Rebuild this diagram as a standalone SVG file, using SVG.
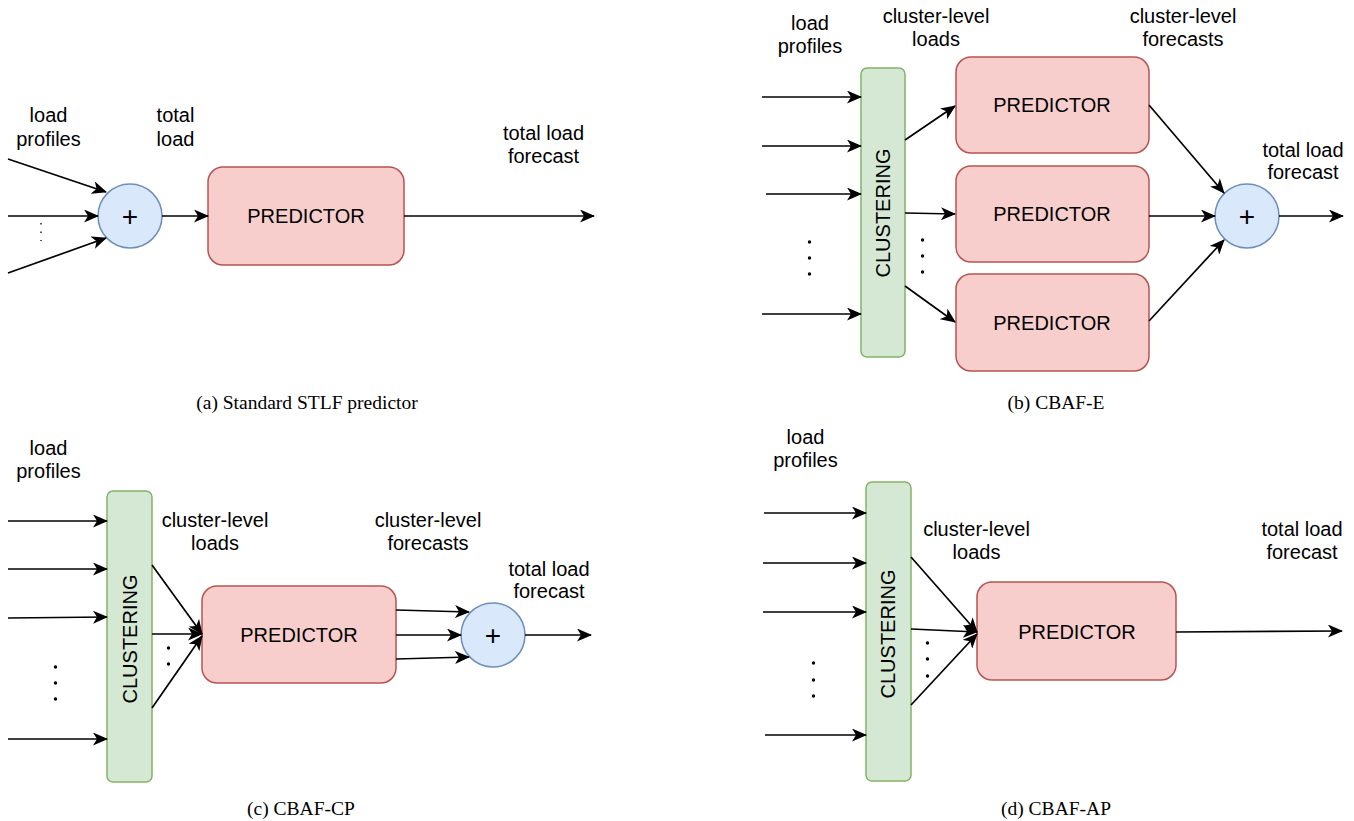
<svg xmlns="http://www.w3.org/2000/svg" width="1354" height="821" viewBox="0 0 1354 821">
  <style>
    .lbl { font-family: "Liberation Sans", Arial, Helvetica, sans-serif; font-size: 20px; fill: #000; text-anchor: middle; }
    .plus { font-family: "Liberation Sans", Arial, Helvetica, sans-serif; font-size: 28px; fill: #000; text-anchor: middle; }
    .cap { font-family: "Liberation Serif", "Times New Roman", serif; font-size: 19.5px; fill: #000; text-anchor: middle; }
    .pred { fill: #f8cecc; stroke: #b85450; stroke-width: 1.5; }
    .clus { fill: #d5e8d4; stroke: #82b366; stroke-width: 1.5; }
    .sum { fill: #dae8fc; stroke: #6c8ebf; stroke-width: 1.5; }
    .edge { fill: none; stroke: #000; stroke-width: 1.7; marker-end: url(#arrow); }
    .dot { fill: #000; }
  </style>
  <defs>
    <marker id="arrow" viewBox="0 0 15 13" refX="14" refY="6.5" markerWidth="15" markerHeight="13" markerUnits="userSpaceOnUse" orient="auto">
      <path d="M0,0 L15,6.5 L0,13 L4,6.5 Z" fill="#000"/>
    </marker>
  </defs>

  <rect width="1354" height="821" fill="#fff"/>

  <!-- (a) Standard STLF predictor -->
  <g id="a-labels">
    <text class="lbl" x="48.5" y="122">load</text>
    <text class="lbl" x="48.5" y="146">profiles</text>
    <text class="lbl" x="175.5" y="122">total</text>
    <text class="lbl" x="175.5" y="146">load</text>
    <text class="lbl" x="543.5" y="140">total load</text>
    <text class="lbl" x="543.5" y="163">forecast</text>
  </g>
  <g id="a-sum">
    <circle class="sum" cx="130" cy="216" r="32"/>
    <text class="plus" x="130" y="225.5">+</text>
  </g>
  <g id="a-predictor">
    <rect class="pred" x="208" y="167" width="196" height="98" rx="15"/>
    <text class="lbl" x="306" y="223">PREDICTOR</text>
  </g>
  <g id="a-connectors">
    <line class="edge" x1="8" y1="159" x2="106" y2="192"/>
    <line class="edge" x1="8" y1="216" x2="98" y2="216"/>
    <line class="edge" x1="8" y1="273" x2="106" y2="238"/>
    <line class="edge" x1="162" y1="216" x2="208" y2="216"/>
    <line class="edge" x1="404" y1="216" x2="594" y2="216"/>
    <line x1="41" y1="223" x2="41" y2="241" stroke="#000" stroke-width="1.3" stroke-dasharray="1.5 7"/>
  </g>
  <text class="cap" x="307" y="409">(a) Standard STLF predictor</text>

  <!-- (b) CBAF-E -->
  <g id="b-labels">
    <text class="lbl" x="810" y="30">load</text>
    <text class="lbl" x="810" y="53">profiles</text>
    <text class="lbl" x="936" y="23">cluster-level</text>
    <text class="lbl" x="936" y="46">loads</text>
    <text class="lbl" x="1183" y="23">cluster-level</text>
    <text class="lbl" x="1183" y="46">forecasts</text>
    <text class="lbl" x="1303" y="157">total load</text>
    <text class="lbl" x="1303" y="179">forecast</text>
  </g>
  <g id="b-clustering">
    <rect class="clus" x="861" y="68" width="44" height="289" rx="6"/>
    <text class="lbl" x="890" y="213" transform="rotate(-90 890 213)">CLUSTERING</text>
  </g>
  <g id="b-predictor-1">
    <rect class="pred" x="956" y="57" width="193" height="96" rx="15"/>
    <text class="lbl" x="1052" y="112">PREDICTOR</text>
  </g>
  <g id="b-predictor-2">
    <rect class="pred" x="956" y="166" width="193" height="96" rx="15"/>
    <text class="lbl" x="1052" y="221">PREDICTOR</text>
  </g>
  <g id="b-predictor-3">
    <rect class="pred" x="956" y="274" width="193" height="97" rx="15"/>
    <text class="lbl" x="1052" y="330">PREDICTOR</text>
  </g>
  <g id="b-sum">
    <circle class="sum" cx="1247" cy="216" r="32"/>
    <text class="plus" x="1247" y="225.5">+</text>
  </g>
  <g id="b-connectors">
    <line class="edge" x1="762" y1="97" x2="861" y2="97"/>
    <line class="edge" x1="762" y1="146" x2="861" y2="146"/>
    <line class="edge" x1="766" y1="194" x2="861" y2="194"/>
    <line class="edge" x1="762" y1="314" x2="861" y2="314"/>
    <line class="edge" x1="905" y1="140" x2="955" y2="106"/>
    <line class="edge" x1="905" y1="213" x2="955" y2="214"/>
    <line class="edge" x1="905" y1="286" x2="955" y2="322"/>
    <line class="edge" x1="1149" y1="105" x2="1224" y2="193"/>
    <line class="edge" x1="1149" y1="216" x2="1215" y2="216"/>
    <line class="edge" x1="1149" y1="321" x2="1224" y2="240"/>
    <line class="edge" x1="1279" y1="216" x2="1343" y2="216"/>
    <circle class="dot" cx="809.5" cy="242" r="1.7"/>
    <circle class="dot" cx="809.5" cy="258" r="1.7"/>
    <circle class="dot" cx="809.5" cy="274" r="1.7"/>
    <circle class="dot" cx="922.5" cy="240" r="1.7"/>
    <circle class="dot" cx="922.5" cy="256" r="1.7"/>
    <circle class="dot" cx="922.5" cy="272" r="1.7"/>
  </g>
  <text class="cap" x="1056" y="409">(b) CBAF-E</text>

  <!-- (c) CBAF-CP -->
  <g id="c-labels">
    <text class="lbl" x="48.5" y="455">load</text>
    <text class="lbl" x="48.5" y="478">profiles</text>
    <text class="lbl" x="215" y="527">cluster-level</text>
    <text class="lbl" x="215" y="550">loads</text>
    <text class="lbl" x="428" y="527">cluster-level</text>
    <text class="lbl" x="428" y="550">forecasts</text>
    <text class="lbl" x="549" y="576">total load</text>
    <text class="lbl" x="549" y="598">forecast</text>
  </g>
  <g id="c-clustering">
    <rect class="clus" x="107" y="491" width="45" height="291" rx="6"/>
    <text class="lbl" x="137" y="639" transform="rotate(-90 137 639)">CLUSTERING</text>
  </g>
  <g id="c-predictor">
    <rect class="pred" x="202" y="586" width="194" height="97" rx="15"/>
    <text class="lbl" x="299" y="642">PREDICTOR</text>
  </g>
  <g id="c-sum">
    <circle class="sum" cx="493" cy="635" r="32"/>
    <text class="plus" x="493" y="644.5">+</text>
  </g>
  <g id="c-connectors">
    <line class="edge" x1="8" y1="521" x2="107" y2="521"/>
    <line class="edge" x1="8" y1="569" x2="107" y2="569"/>
    <line class="edge" x1="8" y1="618" x2="107" y2="617"/>
    <line class="edge" x1="8" y1="739" x2="107" y2="739"/>
    <line class="edge" x1="152" y1="565" x2="202" y2="634"/>
    <line class="edge" x1="152" y1="634" x2="202" y2="634"/>
    <line class="edge" x1="152" y1="708" x2="202" y2="636"/>
    <line class="edge" x1="396" y1="610" x2="469" y2="612"/>
    <line class="edge" x1="396" y1="635" x2="461" y2="635"/>
    <line class="edge" x1="396" y1="659" x2="469" y2="657"/>
    <line class="edge" x1="525" y1="635" x2="591" y2="635"/>
    <circle class="dot" cx="55.5" cy="667" r="1.7"/>
    <circle class="dot" cx="55.5" cy="683" r="1.7"/>
    <circle class="dot" cx="55.5" cy="699" r="1.7"/>
    <circle class="dot" cx="168.5" cy="648" r="1.7"/>
    <circle class="dot" cx="168.5" cy="664" r="1.7"/>
  </g>
  <text class="cap" x="301" y="815">(c) CBAF-CP</text>

  <!-- (d) CBAF-AP -->
  <g id="d-labels">
    <text class="lbl" x="805.5" y="444">load</text>
    <text class="lbl" x="805.5" y="467">profiles</text>
    <text class="lbl" x="976.5" y="536">cluster-level</text>
    <text class="lbl" x="976.5" y="559">loads</text>
    <text class="lbl" x="1302" y="536">total load</text>
    <text class="lbl" x="1302" y="559">forecast</text>
  </g>
  <g id="d-clustering">
    <rect class="clus" x="866" y="482" width="45" height="299" rx="6"/>
    <text class="lbl" x="895" y="634" transform="rotate(-90 895 634)">CLUSTERING</text>
  </g>
  <g id="d-predictor">
    <rect class="pred" x="977" y="582" width="199" height="98" rx="15"/>
    <text class="lbl" x="1077" y="639">PREDICTOR</text>
  </g>
  <g id="d-connectors">
    <line class="edge" x1="764" y1="513" x2="866" y2="513"/>
    <line class="edge" x1="763" y1="563" x2="866" y2="563"/>
    <line class="edge" x1="763" y1="612" x2="866" y2="612"/>
    <line class="edge" x1="765" y1="735" x2="866" y2="735"/>
    <line class="edge" x1="911" y1="557" x2="977" y2="632"/>
    <line class="edge" x1="911" y1="629" x2="977" y2="632"/>
    <line class="edge" x1="911" y1="705" x2="977" y2="634"/>
    <line class="edge" x1="1176" y1="632" x2="1342" y2="631"/>
    <circle class="dot" cx="813.5" cy="663" r="1.7"/>
    <circle class="dot" cx="813.5" cy="680" r="1.7"/>
    <circle class="dot" cx="813.5" cy="696" r="1.7"/>
    <circle class="dot" cx="927.5" cy="643" r="1.7"/>
    <circle class="dot" cx="927.5" cy="659" r="1.7"/>
    <circle class="dot" cx="927.5" cy="676" r="1.7"/>
  </g>
  <text class="cap" x="1056" y="815">(d) CBAF-AP</text>
</svg>
